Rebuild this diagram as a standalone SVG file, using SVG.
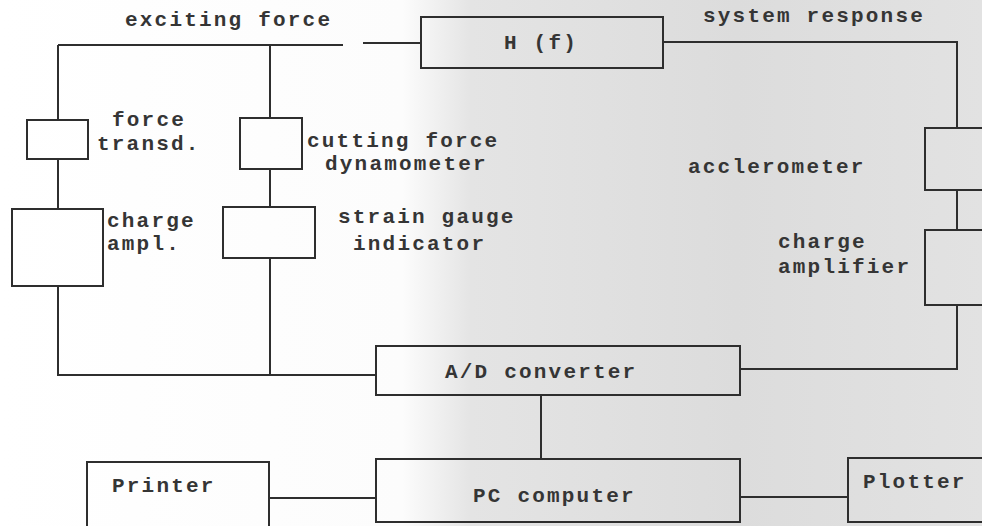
<svg xmlns="http://www.w3.org/2000/svg" width="982" height="526" viewBox="0 0 982 526">
<defs>
<linearGradient id="bg" x1="0" y1="0" x2="1" y2="0">
<stop offset="0" stop-color="#ffffff"/>
<stop offset="0.41" stop-color="#fcfcfc"/>
<stop offset="0.48" stop-color="#e4e4e4"/>
<stop offset="0.75" stop-color="#dcdcdc"/>
<stop offset="1" stop-color="#e2e2e2"/>
</linearGradient>
<style>
.box{fill:none;stroke:#2e2e2e;stroke-width:2}
.ln{fill:none;stroke:#2e2e2e;stroke-width:2}
text{font-family:"Liberation Mono","DejaVu Sans Mono",monospace;font-size:21px;font-weight:bold;fill:#353535;letter-spacing:2.2px}
</style>
</defs>
<rect width="982" height="526" fill="url(#bg)"/>
<g id="connectors">
<path class="ln" d="M58,45 H343 M363,43 H421"/>
<path class="ln" d="M58,45 V120 M58,159 V209 M58,286 V375 H376"/>
<path class="ln" d="M270,45 V118 M270,169 V207 M270,258 V375"/>
<path class="ln" d="M663,42 H957 V128 M957,190 V230 M957,305 V369 H740"/>
<path class="ln" d="M541,395 V459"/>
<path class="ln" d="M269,498 H376"/>
<path class="ln" d="M740,497 H848"/>
</g>
<g id="labels">
<text x="125" y="26">exciting force</text>
<text x="703" y="22">system response</text>
</g>
<g id="hf"><rect class="box" x="421" y="17" width="242" height="51"/><text x="504" y="49">H (f)</text></g>
<g id="force-transd"><rect class="box" x="27" y="120" width="61" height="39"/><text x="112" y="126">force</text><text x="97" y="150">transd.</text></g>
<g id="charge-ampl"><rect class="box" x="12" y="209" width="91" height="77"/><text x="107" y="227">charge</text><text x="107" y="250">ampl.</text></g>
<g id="dynamometer"><rect class="box" x="240" y="118" width="62" height="51"/><text x="307" y="147">cutting force</text><text x="325" y="170">dynamometer</text></g>
<g id="strain-gauge"><rect class="box" x="223" y="207" width="92" height="51"/><text x="338" y="223">strain gauge</text><text x="353" y="250">indicator</text></g>
<g id="accelerometer"><rect class="box" x="925" y="128" width="70" height="62"/><text x="688" y="173">acclerometer</text></g>
<g id="charge-amplifier"><rect class="box" x="925" y="230" width="70" height="75"/><text x="778" y="248">charge</text><text x="778" y="273">amplifier</text></g>
<g id="ad-converter"><rect class="box" x="376" y="346" width="364" height="49"/><text x="445" y="378">A/D converter</text></g>
<g id="pc"><rect class="box" x="376" y="459" width="364" height="63"/><text x="473" y="502">PC computer</text></g>
<g id="printer"><rect class="box" x="87" y="462" width="182" height="70"/><text x="112" y="492">Printer</text></g>
<g id="plotter"><rect class="box" x="848" y="458" width="150" height="64"/><text x="863" y="488">Plotter</text></g>
</svg>
